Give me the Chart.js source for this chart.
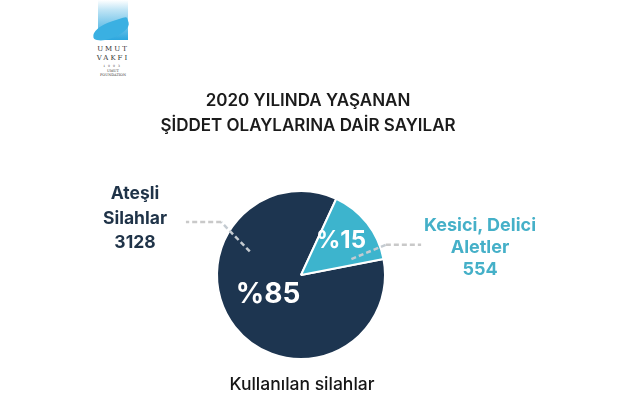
<!DOCTYPE html>
<html>
<head>
<meta charset="utf-8">
<script src="https://cdn.jsdelivr.net/npm/chart.js@4/dist/chart.umd.min.js"></script>
<style>
  html, body { margin: 0; padding: 0; background: #fff; }
  #wrap { position: relative; width: 640px; height: 411px; overflow: hidden; font-family: Inter, "Noto Sans", sans-serif; }
  #c { position: absolute; left: 0; top: 0; }
  .txt { position: absolute; text-align: center; white-space: nowrap; }
  #title { left: 0; width: 616px; top: 88px; font-size: 17px; font-weight: 600; color: #1b1b1b; line-height: 25px; }
  #left-lab { left: 85px; width: 100px; top: 181px; font-size: 17.5px; font-weight: 700; color: #1f3348; line-height: 24.5px; }
  #right-lab { left: 413px; width: 134px; top: 214px; font-size: 18px; font-weight: 700; color: #45b0c8; line-height: 22px; }
  .pct { font-weight: 700; color: #fff; }
  #pct-a { left: 228px; width: 80px; top: 276px; font-size: 28px; }
  #pct-b { left: 306px; width: 70px; top: 225px; font-size: 24px; }
  #caption { left: 0; width: 604px; top: 373px; font-size: 17.5px; font-weight: 500; color: #161616; }
  #logo { position: absolute; left: 90px; top: 0; width: 46px; height: 82px; }
  #logo .bar { position: absolute; left: 8px; top: 0; width: 30px; height: 40px; background: linear-gradient(#fff 0%, #bfe4f5 25%, #2aa6de 100%); }
  #logo .wing { position: absolute; left: 2px; top: 22px; width: 38px; height: 16px; background: #3ab0e2; border-radius: 60% 10% 60% 40%; transform: rotate(-18deg); }
  #logo .t { position: absolute; left: 0; width: 46px; text-align: center; font-family: "DejaVu Serif", serif; color: #333; }
</style>
</head>
<body>
<div id="wrap">
  <div id="logo">
    <div class="bar"></div>
    <div class="wing"></div>
    <div class="t" style="top:45px;font-size:7px;letter-spacing:2px;">UMUT</div>
    <div class="t" style="top:54px;font-size:7px;letter-spacing:2px;">VAKFI</div>
    <div class="t" style="top:64px;font-size:3px;letter-spacing:3px;">1993</div>
    <div class="t" style="top:69px;font-size:3.5px;">UMUT<br>FOUNDATION</div>
  </div>
  <canvas id="c" width="640" height="411"></canvas>
  <div id="title" class="txt">2020 YILINDA YAŞANAN<br>ŞİDDET OLAYLARINA DAİR SAYILAR</div>
  <div id="left-lab" class="txt"></div>
  <div id="right-lab" class="txt"></div>
  <div id="pct-a" class="txt pct"></div>
  <div id="pct-b" class="txt pct"></div>
  <div id="caption" class="txt">Kullanılan silahlar</div>
</div>
<script>
const categories = ['Ateşli Silahlar', 'Kesici, Delici Aletler'];
const labelLines = [['Ateşli', 'Silahlar'], ['Kesici, Delici', 'Aletler']];
const counts = [3128, 554];
const sliceColors = ['#1d3550', '#3db4cd'];

const total = counts.reduce((a, b) => a + b, 0);
const pcts = counts.map(v => Math.round(v / total * 100));

document.getElementById('left-lab').innerHTML = labelLines[0].join('<br>') + '<br>' + counts[0];
document.getElementById('right-lab').innerHTML = labelLines[1].join('<br>') + '<br>' + counts[1];
document.getElementById('pct-a').textContent = '%' + pcts[0];
document.getElementById('pct-b').textContent = '%' + pcts[1];

// dashed leaders, in radius units from the pie centre: inner point, elbow, end of horizontal run
const leaders = [
    { inner: [-0.61, -0.28], elbow: [-0.95, -0.63], endX: -1.37 },
    { inner: [0.6, -0.19], elbow: [1.01, -0.36], endX: 1.43 }
];

const leaderPlugin = {
    id: 'leaders',
    afterDatasetsDraw(chart) {
        const arc = chart.getDatasetMeta(0).data[0];
        const { x, y, outerRadius: r } = arc;
        const ctx = chart.ctx;
        ctx.save();
        ctx.setLineDash([5, 3]);
        ctx.lineWidth = 2.5;
        leaders.forEach(l => {
            ctx.strokeStyle = '#c4cbd1';
            ctx.beginPath();
            ctx.moveTo(x + l.inner[0] * r, y + l.inner[1] * r);
            ctx.lineTo(x + l.elbow[0] * r, y + l.elbow[1] * r);
            ctx.stroke();
            ctx.strokeStyle = '#c9c9c9';
            ctx.beginPath();
            ctx.moveTo(x + l.elbow[0] * r, y + l.elbow[1] * r);
            ctx.lineTo(x + l.endX * r, y + l.elbow[1] * r);
            ctx.stroke();
        });
        ctx.restore();
    }
};

new Chart(document.getElementById('c'), {
    type: 'pie',
    data: {
        labels: categories,
        datasets: [{
            data: counts,
            backgroundColor: sliceColors,
            borderColor: '#ffffff',
            borderWidth: 2
        }]
    },
    options: {
        responsive: false,
        animation: false,
        rotation: 79,
        layout: { padding: { left: 216, right: 254, top: 190, bottom: 51 } },
        plugins: {
            legend: { display: false },
            tooltip: { enabled: false }
        }
    },
    plugins: [leaderPlugin]
});
</script>
</body>
</html>
